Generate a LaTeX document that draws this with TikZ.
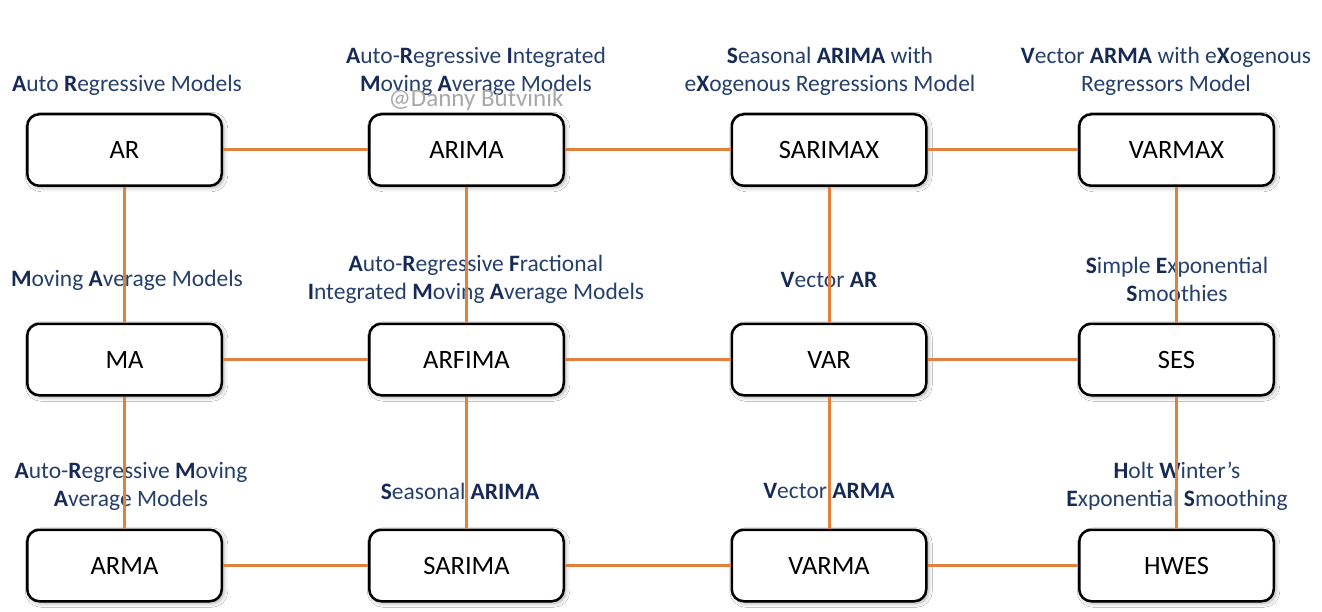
\documentclass[tikz,border=0pt]{standalone}
\usepackage{fontspec}
\setmainfont{Carlito}
\usetikzlibrary{shadows.blur}
\definecolor{lblreg}{HTML}{26406B}
\definecolor{lblbold}{HTML}{172A55}
\definecolor{linkor}{HTML}{E2803E}
\definecolor{wmark}{HTML}{A8A8A8}
\newcommand{\B}[1]{\textbf{\color{lblbold}#1}}
\begin{document}
\begin{tikzpicture}[x=1pt,y=-1pt,
  model/.style={draw=black, fill=white, line width=2.5pt, rounded corners=12pt,
    minimum width=194.5pt, minimum height=71.5pt, inner sep=0pt,
    font=\fontsize{26.5}{30}\selectfont, text=black,
    blur shadow={shadow xshift=2pt, shadow yshift=-2pt, shadow blur radius=4pt, shadow opacity=35}},
  lbl/.style={align=center, inner sep=0pt, text=lblreg,
    font=\fontsize{23.5}{28}\selectfont},
  link/.style={draw=linkor, line width=3pt},
  wm/.style={inner sep=0pt, text=wmark, font=\fontsize{25}{28}\selectfont}
]
\useasboundingbox[fill=white] (0,0) rectangle (1322,612);

% labels
\node[lbl] (lar)     at (127,85)  {\B{A}uto \B{R}egressive Models};
\node[lbl] (larima)  at (476,71)  {\B{A}uto-\B{R}egressive \B{I}ntegrated\\\B{M}oving \B{A}verage Models};
\node[lbl] (lsarimax) at (830,71) {\B{S}easonal \B{ARIMA} with\\e\B{X}ogenous Regressions Model};
\node[lbl] (lvarmax) at (1166,71) {\B{V}ector \B{ARMA} with e\B{X}ogenous\\Regressors Model};
\node[lbl] (lma)     at (127,280) {\B{M}oving \B{A}verage Models};
\node[lbl] (larfima) at (476,279.5) {\B{A}uto-\B{R}egressive \B{F}ractional\\\B{I}ntegrated \B{M}oving \B{A}verage Models};
\node[lbl] (lvar)    at (829,280) {\B{V}ector \B{AR}};
\node[lbl] (lses)    at (1177,279.5) {\B{S}imple \B{E}xponential\\\B{S}moothies};
\node[lbl] (larma)   at (131,486.5) {\B{A}uto-\B{R}egressive \B{M}oving\\\B{A}verage Models};
\node[lbl] (lsarima) at (460,491) {\B{S}easonal \B{ARIMA}};
\node[lbl] (lvarma)  at (829,491) {\B{V}ector \B{ARMA}};
\node[lbl] (lhwes)   at (1177,486.5) {\B{H}olt \B{W}inter’s\\\B{E}xponential \B{S}moothing};

\node[wm] (wmk) at (476,99.5) {@Danny Butvinik};

% boxes
\node[model] (ar)      at (124.5,150) {AR};
\node[model] (arima)   at (466.5,150) {ARIMA};
\node[model] (sarimax) at (829,150)   {SARIMAX};
\node[model] (varmax)  at (1176.5,150) {VARMAX};
\node[model] (ma)      at (124.5,359.5) {MA};
\node[model] (arfima)  at (466.5,359.5) {ARFIMA};
\node[model] (var)     at (829,359.5)   {VAR};
\node[model] (ses)     at (1176.5,359.5) {SES};
\node[model] (arma)    at (124.5,565.5) {ARMA};
\node[model] (sarima)  at (466.5,565.5) {SARIMA};
\node[model] (varma)   at (829,565.5)   {VARMA};
\node[model] (hwes)    at (1176.5,565.5) {HWES};

% connectors
\draw[link] (ar) -- (arima);
\draw[link] (arima) -- (sarimax);
\draw[link] (sarimax) -- (varmax);
\draw[link] (ma) -- (arfima);
\draw[link] (arfima) -- (var);
\draw[link] (var) -- (ses);
\draw[link] (arma) -- (sarima);
\draw[link] (sarima) -- (varma);
\draw[link] (varma) -- (hwes);
\draw[link] (ar) -- (ma);
\draw[link] (ma) -- (arma);
\draw[link] (arima) -- (arfima);
\draw[link] (arfima) -- (sarima);
\draw[link] (sarimax) -- (var);
\draw[link] (var) -- (varma);
\draw[link] (varmax) -- (ses);
\draw[link] (ses) -- (hwes);
\end{tikzpicture}
\end{document}
